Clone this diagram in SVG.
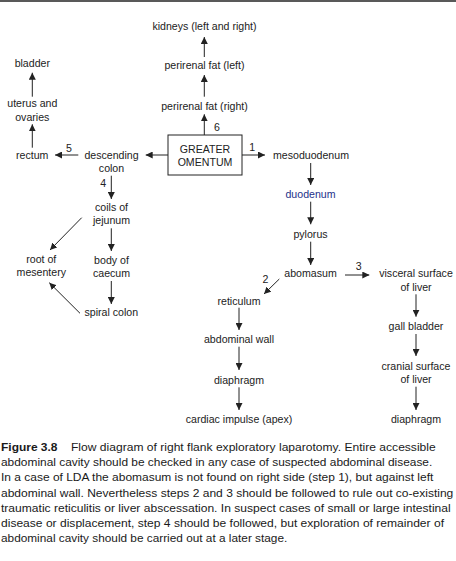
<svg xmlns="http://www.w3.org/2000/svg" width="456" height="561" viewBox="0 0 456 561">
<defs>
<marker id="ah" viewBox="0 0 10 10" refX="10" refY="5" markerWidth="7" markerHeight="7" markerUnits="userSpaceOnUse" orient="auto">
<path d="M0,0 L10,5 L0,10 z" fill="#222"/>
</marker>
<style>
text{font-family:"Liberation Sans",Arial,sans-serif;font-size:10.6px;fill:#222}
.n text{text-anchor:middle}
.lbl{font-size:10.6px}
.cap{font-size:11.6px;fill:#1a1a1a}
.b{font-weight:bold}
line.c{stroke:#222;stroke-width:1;marker-end:url(#ah)}
</style>
</defs>
<rect width="456" height="561" fill="#fff"/>
<line x1="0" y1="1" x2="456" y2="1" stroke="#222" stroke-width="1.6"/>

<g class="n">
<g id="n-kidneys"><text x="204.5" y="30">kidneys (left and right)</text></g>
<g id="n-perirenal-left"><text x="204.5" y="69">perirenal fat (left)</text></g>
<g id="n-perirenal-right"><text x="204.5" y="109.5">perirenal fat (right)</text></g>
<g id="n-omentum"><rect x="168" y="135" width="74" height="40" fill="#fff" stroke="#222" stroke-width="1"/><text x="205" y="153">GREATER</text><text x="205" y="166">OMENTUM</text></g>
<g id="n-mesoduodenum"><text x="311" y="159">mesoduodenum</text></g>
<g id="n-duodenum"><text x="310.5" y="198" style="fill:#24318a">duodenum</text></g>
<g id="n-pylorus"><text x="310.5" y="238">pylorus</text></g>
<g id="n-abomasum"><text x="310.5" y="277">abomasum</text></g>
<g id="n-visceral"><text x="416" y="277">visceral surface</text><text x="416" y="290.5">of liver</text></g>
<g id="n-gall"><text x="416" y="330">gall bladder</text></g>
<g id="n-cranial"><text x="416" y="369.5">cranial surface</text><text x="416" y="383">of liver</text></g>
<g id="n-diaphragm-r"><text x="416" y="423">diaphragm</text></g>
<g id="n-reticulum"><text x="239" y="305">reticulum</text></g>
<g id="n-abdwall"><text x="239" y="343">abdominal wall</text></g>
<g id="n-diaphragm-l"><text x="239" y="384">diaphragm</text></g>
<g id="n-cardiac"><text x="239" y="423">cardiac impulse (apex)</text></g>
<g id="n-descending"><text x="111.5" y="159">descending</text><text x="111.5" y="172">colon</text></g>
<g id="n-rectum"><text x="32.2" y="159">rectum</text></g>
<g id="n-uterus"><text x="32.3" y="107">uterus and</text><text x="32.3" y="120.5">ovaries</text></g>
<g id="n-bladder"><text x="32.3" y="67">bladder</text></g>
<g id="n-coils"><text x="111.5" y="211">coils of</text><text x="111.5" y="224">jejunum</text></g>
<g id="n-caecum"><text x="111.5" y="264">body of</text><text x="111.5" y="277">caecum</text></g>
<g id="n-spiral"><text x="111.3" y="316">spiral colon</text></g>
<g id="n-root"><text x="41.3" y="263">root of</text><text x="41.3" y="276">mesentery</text></g>
</g>

<g id="connectors">
<line class="c" x1="204.3" y1="57" x2="204.3" y2="37"/>
<line class="c" x1="204.3" y1="96.7" x2="204.3" y2="75"/>
<line class="c" x1="204.3" y1="135" x2="204.3" y2="114.3"/>
<line class="c" x1="242" y1="155" x2="265" y2="155"/>
<line class="c" x1="310.7" y1="163" x2="310.7" y2="185"/>
<line class="c" x1="310.7" y1="201.7" x2="310.7" y2="224.3"/>
<line class="c" x1="310.7" y1="241.7" x2="310.7" y2="265"/>
<line class="c" x1="345" y1="275" x2="369.3" y2="275"/>
<line class="c" x1="416" y1="294.3" x2="416" y2="316.7"/>
<line class="c" x1="416" y1="334" x2="416" y2="356"/>
<line class="c" x1="416" y1="386.7" x2="416" y2="410"/>
<line class="c" x1="279.3" y1="279" x2="264" y2="294"/>
<line class="c" x1="239" y1="307.7" x2="239" y2="330"/>
<line class="c" x1="239" y1="346.7" x2="239" y2="370"/>
<line class="c" x1="239" y1="387.3" x2="239" y2="410"/>
<line class="c" x1="168" y1="155" x2="145.7" y2="155"/>
<line class="c" x1="78.3" y1="155" x2="55" y2="155"/>
<line class="c" x1="32.3" y1="147.7" x2="32.3" y2="124.3"/>
<line class="c" x1="32.3" y1="96.7" x2="32.3" y2="72.7"/>
<line class="c" x1="111.3" y1="175.7" x2="111.3" y2="199"/>
<line class="c" x1="111.3" y1="228.3" x2="111.3" y2="251"/>
<line class="c" x1="111.3" y1="281" x2="111.3" y2="304"/>
<line class="c" x1="81.7" y1="217.7" x2="50" y2="250"/>
<line class="c" x1="80" y1="313.3" x2="49.3" y2="282.7"/>
<text class="lbl" x="214" y="131">6</text>
<text class="lbl" x="249.3" y="150.5">1</text>
<text class="lbl" x="355.7" y="270">3</text>
<text class="lbl" x="262.5" y="283">2</text>
<text class="lbl" x="66" y="151.5">5</text>
<text class="lbl" x="100.3" y="186.5">4</text>
</g>

<g id="caption">
<text class="cap b" x="1" y="451" textLength="56.5" lengthAdjust="spacingAndGlyphs">Figure 3.8</text>
<text class="cap" x="71" y="451" textLength="364.7" lengthAdjust="spacingAndGlyphs">Flow diagram of right flank exploratory laparotomy. Entire accessible</text>
<text class="cap" x="1" y="466.2" textLength="431.3" lengthAdjust="spacingAndGlyphs">abdominal cavity should be checked in any case of suspected abdominal disease.</text>
<text class="cap" x="1" y="481.4" textLength="432.3" lengthAdjust="spacingAndGlyphs">In a case of LDA the abomasum is not found on right side (step 1), but against left</text>
<text class="cap" x="1" y="496.6" textLength="452.3" lengthAdjust="spacingAndGlyphs">abdominal wall. Nevertheless steps 2 and 3 should be followed to rule out co-existing</text>
<text class="cap" x="1" y="511.8" textLength="449.7" lengthAdjust="spacingAndGlyphs">traumatic reticulitis or liver abscessation. In suspect cases of small or large intestinal</text>
<text class="cap" x="1" y="527" textLength="443" lengthAdjust="spacingAndGlyphs">disease or displacement, step 4 should be followed, but exploration of remainder of</text>
<text class="cap" x="1" y="542.2" textLength="286.3" lengthAdjust="spacingAndGlyphs">abdominal cavity should be carried out at a later stage.</text>
</g>
</svg>
